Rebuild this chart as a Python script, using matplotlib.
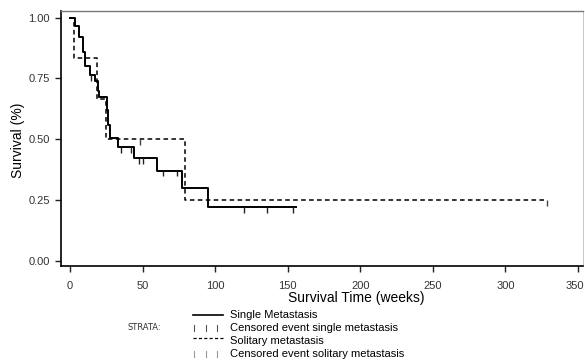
import matplotlib.pyplot as plt
from matplotlib.lines import Line2D
from matplotlib.transforms import ScaledTranslation

# Kaplan-Meier steps: time of each drop (weeks) and survival after it
single_t = [0, 3.7, 6.4, 8.7, 10.0, 14.0, 17.5, 19.0, 20.0, 25.3, 26.2, 27.5,
            33.3, 44.3, 60.0, 77.0, 95.3]
single_s = [1.0, 0.966, 0.92, 0.86, 0.80, 0.765, 0.74, 0.70, 0.675, 0.62, 0.56,
            0.504, 0.469, 0.424, 0.372, 0.30, 0.222]
single_end = 156.0
single_cens = [14.5, 35.0, 41.8, 47.8, 50.5, 64.3, 73.5, 120.0, 136.0, 154.0]

solitary_t = [0, 3.0, 18.6, 24.8, 79.3]
solitary_s = [1.0, 0.833, 0.667, 0.5, 0.25]
solitary_end = 328.5
solitary_cens = [48.2, 328.5]

xticks = [0, 50, 100, 150, 200, 250, 300, 350]
yticks = [0.0, 0.25, 0.50, 0.75, 1.00]

W, H = 585, 364
fig = plt.figure(figsize=(W / 100, H / 100), dpi=100)


def fx(px):
    return px / W


def fy(py):
    return 1 - py / H


ax = fig.add_axes([fx(61), fy(266), fx(583) - fx(61), fy(11) - fy(266)])


def km_step(t, s, end):
    xs = list(t) + [end]
    ys = list(s) + [s[-1]]
    return xs, ys


def surv_at(t, s, x):
    val = s[0]
    for ti, si in zip(t, s):
        if ti <= x:
            val = si
    return val


xs, ys = km_step(single_t, single_s, single_end)
ax.step(xs, ys, where='post', color='black', lw=1.4)
xs, ys = km_step(solitary_t, solitary_s, solitary_end)
ax.step(xs, ys, where='post', color='black', lw=1.1, linestyle=(0, (3, 2.2)))

# censor marks hang below the curve
for c in single_cens:
    y = surv_at(single_t, single_s, c)
    ax.vlines(c, y - 0.024, y, color='#222222', lw=1.0)
for c in solitary_cens:
    y = surv_at(solitary_t, solitary_s, c)
    ax.vlines(c, y - 0.024, y, color='#444444', lw=1.0)

ax.set_xlim(-6.2, 353.5)
ax.set_ylim(-0.02, 1.027)
ax.set_xticks(xticks)
ax.set_xticklabels([str(v) for v in xticks])
ax.set_yticks(yticks)
ax.set_yticklabels(['%.2f' % v for v in yticks])
ax.tick_params(direction='out', length=4, width=1.0, labelsize=8, colors='#222222')
ax.tick_params(axis='y', pad=4)
ax.tick_params(axis='x', pad=7)
for lab in ax.get_xticklabels() + ax.get_yticklabels():
    lab.set_family('Liberation Sans')
    lab.set_color('#333333')
# last label sits at the right edge; nudge it inside
last = ax.get_xticklabels()[-1]
last.set_transform(last.get_transform() + ScaledTranslation(-3 / 100, 0, fig.dpi_scale_trans))

for side in ['left', 'bottom']:
    ax.spines[side].set_linewidth(1.2)
ax.spines['top'].set_color('#777777')
ax.spines['top'].set_linewidth(1.0)
ax.spines['right'].set_color('#bbbbbb')
ax.spines['right'].set_linewidth(0.6)

fig.text(fx(18), fy(140), 'Survival (%)', rotation=90, ha='center', va='center',
         fontsize=10, family='Liberation Sans')
fig.text(fx(356), fy(298), 'Survival Time (weeks)', ha='center', va='center',
         fontsize=10, family='Liberation Sans')

# legend block
fig.text(fx(127), fy(328), 'STRATA:', ha='left', va='center', fontsize=6,
         family='Liberation Sans Narrow', color='#333333')
labels = ['Single Metastasis', 'Censored event single metastasis',
          'Solitary metastasis', 'Censored event solitary metastasis']
rows = [315, 328, 341, 354]
for i, (lab, r) in enumerate(zip(labels, rows)):
    fig.text(fx(230), fy(r), lab, ha='left', va='center', fontsize=8,
             family='Liberation Sans')
    if i == 0:
        fig.add_artist(Line2D([fx(193), fx(223)], [fy(r), fy(r)], color='black',
                              lw=1.2, transform=fig.transFigure))
    elif i == 2:
        fig.add_artist(Line2D([fx(193), fx(223)], [fy(r - 3), fy(r - 3)],
                              color='black', lw=0.9, linestyle=(0, (2.5, 1.8)),
                              transform=fig.transFigure))
    else:
        col = '#555555' if i == 1 else '#999999'
        for px in [194, 206, 217]:
            fig.add_artist(Line2D([fx(px), fx(px)], [fy(r - 3), fy(r + 3)],
                                  color=col, lw=0.8, transform=fig.transFigure))

fig.savefig('out.png', dpi=100)
